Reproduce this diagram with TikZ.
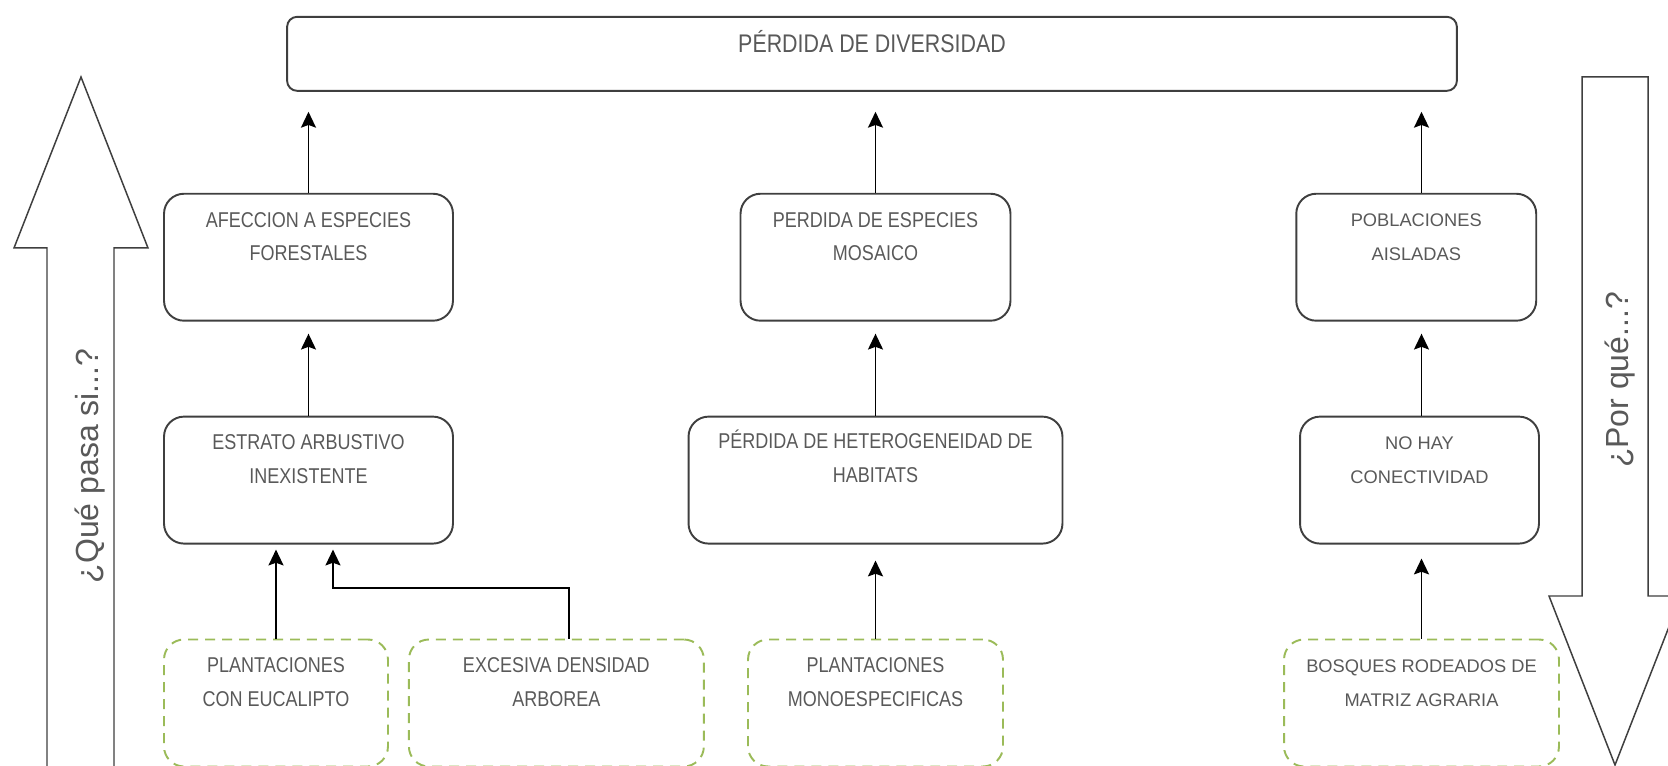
\documentclass[tikz,border=0pt]{standalone}
\usepackage{fontspec}
\setmainfont{Liberation Sans}
\newfontfamily\narrowfont[FakeStretch=0.84]{Liberation Sans}
\usetikzlibrary{arrows.meta,positioning}
\definecolor{txtgray}{HTML}{595959}
\definecolor{dashgreen}{HTML}{9BBB59}
\definecolor{linegray}{HTML}{3F3F3F}

\begin{document}
\begin{tikzpicture}[x=0.02cm, y=-0.02cm, ->, >={Stealth[length=9pt,width=8.5pt,inset=1.5pt]},
                line width=1.1pt, node distance=1.88cm,
                effect/.style={draw=linegray, rounded corners=0.4cm, minimum height=2.54cm, inner sep=0pt},
                cause/.style={draw=dashgreen, dash pattern=on 0.2cm off 0.14cm, rounded corners=0.4cm, minimum height=2.54cm, inner sep=0pt},
                narrow text/.style={anchor=north, yshift=-0.25cm, align=center, text=txtgray, font={\narrowfont\fontsize{12.2}{19.3}\selectfont}},
                wide text/.style={anchor=north, yshift=-0.28cm, align=center, text=txtgray, font={\fontsize{10.4}{19.3}\selectfont}},
                title text/.style={anchor=north, yshift=-0.15cm, text=txtgray, font={\narrowfont\fontsize{14.5}{18}\selectfont}},
                side text/.style={rotate=90, anchor=base, text=txtgray, font={\fontsize{18.2}{22}\selectfont}},
                big arrow/.style={draw=linegray, line width=0.85pt, fill=white}]

      \useasboundingbox (0,0) rectangle (1668,766);
      \clip (0,0) rectangle (1668,766);

      % side arrows
      \draw[big arrow, -] (47,790) -- (47,248) -- (14,248) -- (81,77) -- (148,248) -- (114,248) -- (114,790);
      \draw[big arrow, -] (1582,77) -- (1582,596) -- (1549,596) -- (1615,765) -- (1681,596) -- (1648,596) -- (1648,77) -- cycle;
      \node[side text] (pasa) at (98,466) {¿Qué pasa si...?};
      \node[side text] (porque) at (1628,380) {¿Por qué...?};

      % causes
      \node[cause, minimum width=4.48cm, label={[narrow text]north:{PLANTACIONES\\CON EUCALIPTO}}] (eucalipto) at (276,703) {};
      \node[cause, minimum width=5.9cm, label={[narrow text]north:{EXCESIVA DENSIDAD\\ARBOREA}}] (densidad) [right=0.38cm of eucalipto] {};
      \node[cause, minimum width=5.1cm, label={[narrow text]north:{PLANTACIONES\\MONOESPECIFICAS}}] (monoesp) at (875.5,703) {};
      \node[cause, minimum width=5.5cm, label={[wide text]north:{BOSQUES RODEADOS DE\\MATRIZ AGRARIA}}] (bosques) at (1421.5,703) {};

      % effects
      \node[effect, minimum width=5.78cm, label={[narrow text]north:{ESTRATO ARBUSTIVO\\INEXISTENTE}}] (estrato) [above=of eucalipto, xshift=0.65cm] {};
      \node[effect, minimum width=7.48cm, label={[narrow text, yshift=0.1cm]north:{PÉRDIDA DE HETEROGENEIDAD DE\\HABITATS}}] (heterog) [above=of monoesp] {};
      \node[effect, minimum width=4.78cm, label={[wide text]north:{NO HAY\\CONECTIVIDAD}}] (conect) [above=of bosques, xshift=-0.04cm] {};
      \node[effect, minimum width=5.78cm, label={[narrow text]north:{AFECCION A ESPECIES\\FORESTALES}}] (afeccion) [above=of estrato] {};
      \node[effect, minimum width=5.4cm, label={[narrow text]north:{PERDIDA DE ESPECIES\\MOSAICO}}] (mosaico) [above=of heterog] {};
      \node[effect, minimum width=4.8cm, label={[wide text]north:{POBLACIONES\\AISLADAS}}] (aisladas) [above=of conect, xshift=-0.065cm] {};
      \node[effect, rounded corners=0.2cm, minimum width=23.4cm, minimum height=1.48cm,
            label={[title text]north:PÉRDIDA DE DIVERSIDAD}] (diversidad) [above=2.02cm of mosaico, xshift=-0.07cm] {};

      \draw[shorten >=0.4cm] (afeccion.north) -- (afeccion.north |- diversidad.south);
      \draw[shorten >=0.4cm] (mosaico.north) -- (mosaico.north |- diversidad.south);
      \draw[shorten >=0.4cm] (aisladas.north -| bosques.north) -- (bosques.north |- diversidad.south);
      \draw[shorten >=0.24cm] (estrato.north) -- (estrato.north |- afeccion.south);
      \draw[shorten >=0.24cm] (heterog.north) -- (heterog.north |- mosaico.south);
      \draw[shorten >=0.24cm] (conect.north -| bosques.north) -- (bosques.north |- aisladas.south);
      \draw[shorten >=0.1cm] (eucalipto.north) -- (eucalipto.north |- estrato.south);
      \draw[shorten >=0.1cm] ([xshift=0.25cm]densidad.north) -- ++(0,-51) -| ([xshift=0.49cm]estrato.south);
      \draw[shorten >=0.32cm] (monoesp.north) -- (monoesp.north |- heterog.south);
      \draw[shorten >=0.28cm] (bosques.north) -- (bosques.north |- conect.south);
  \end{tikzpicture}
\end{document}
